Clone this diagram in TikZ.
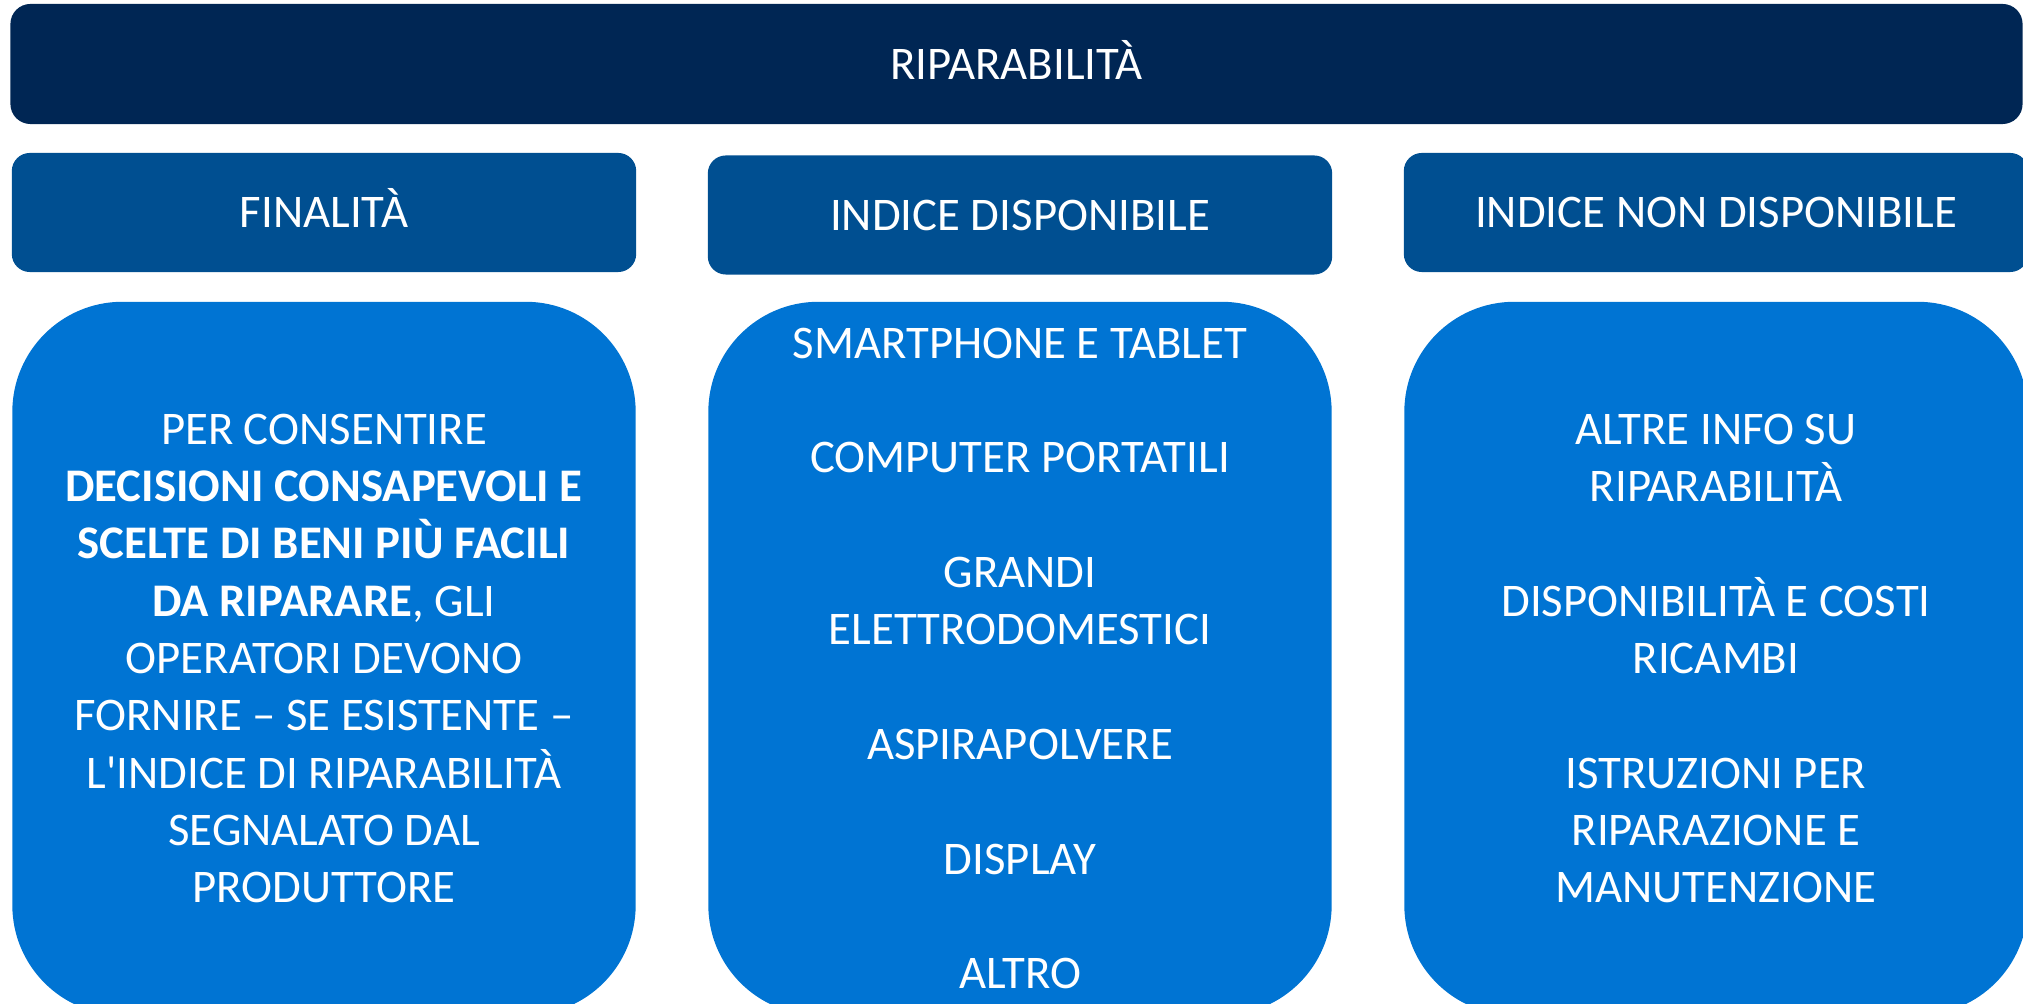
\documentclass[tikz,border=0pt]{standalone}
\usepackage{fontspec}
\setmainfont{Carlito}
\definecolor{navy}{RGB}{0,38,84}
\definecolor{headblue}{RGB}{0,79,145}
\definecolor{bodyblue}{RGB}{0,116,211}
\begin{document}
\begin{tikzpicture}[x=0.01cm,y=-0.01cm,
    txt/.style={text=white,align=center,inner sep=0pt,font=\fontsize{13.3pt}{16.3pt}\selectfont},
    bar/.style={txt,fill=navy,rounded corners=0.2cm,minimum width=20.11cm,minimum height=1.2cm,text height=10.6pt,text depth=2pt},
    head/.style={txt,fill=headblue,rounded corners=0.18cm,minimum width=6.24cm,minimum height=1.19cm,text height=10.6pt,text depth=2pt},
    card/.style={txt,fill=bodyblue,rounded corners=1.1cm,minimum width=6.23cm,minimum height=7.13cm}]
    \useasboundingbox (0,0) rectangle (2023,1004);
    \clip (0,0) rectangle (2023,1004);
    \path (1016.5,64) node [bar](title){RIPARABILITÀ};
    \path (324,212.5) node [head](goal){FINALITÀ}
          (1020,215) node [head](avail){INDICE DISPONIBILE}
          (1716,212.5) node [head](noavail){INDICE NON DISPONIBILE};
    \path (324,658.5) node [card](goaltext){PER CONSENTIRE\\
        \textbf{DECISIONI CONSAPEVOLI E}\\
        \textbf{SCELTE DI BENI PIÙ FACILI}\\
        \textbf{DA RIPARARE}, GLI\\
        OPERATORI DEVONO\\
        FORNIRE – SE ESISTENTE –\\
        L\textquotesingle INDICE DI RIPARABILITÀ\\
        SEGNALATO DAL\\
        PRODUTTORE};
    \path (1020,658.5) node [card](availtext){SMARTPHONE E TABLET\\[\baselineskip]
        COMPUTER PORTATILI\\[\baselineskip]
        GRANDI\\ELETTRODOMESTICI\\[\baselineskip]
        ASPIRAPOLVERE\\[\baselineskip]
        DISPLAY\\[\baselineskip]
        ALTRO};
    \path (1716,658.5) node [card](noavailtext){ALTRE INFO SU\\RIPARABILITÀ\\[\baselineskip]
        DISPONIBILITÀ E COSTI\\RICAMBI\\[\baselineskip]
        ISTRUZIONI PER\\RIPARAZIONE E\\MANUTENZIONE};
\end{tikzpicture}
\end{document}
